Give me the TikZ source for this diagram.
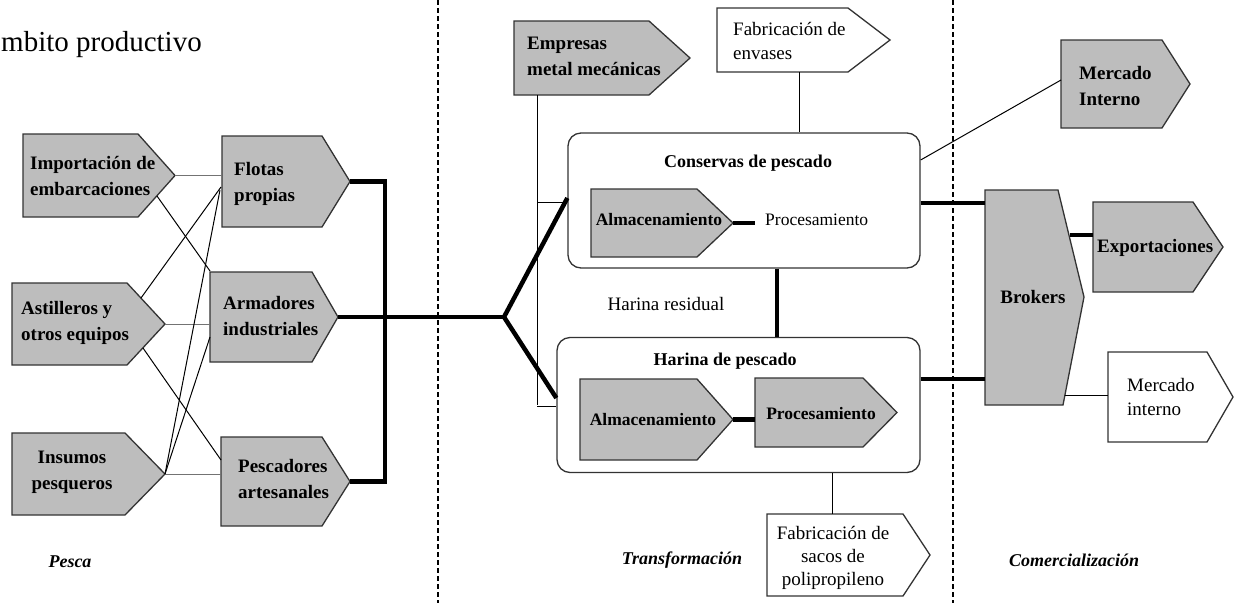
\documentclass[tikz,border=0pt]{standalone}
\usepackage{fontspec}
\setmainfont{Liberation Serif}
\usetikzlibrary{positioning}

\begin{document}
\begin{tikzpicture}[x=1pt, y=-1pt,
	gris/.style={fill=black!26, draw=black!80, line width=1.3pt},
	blanco/.style={fill=white, draw=black!80, line width=1.3pt},
	marco/.style={draw=black!80, line width=1.3pt, rounded corners=13pt},
	etiq/.style={font=\fontsize{19}{26}\selectfont\bfseries, align=left, inner sep=0pt, anchor=west},
	chica/.style={font=\fontsize{17.5}{24}\selectfont\bfseries, inner sep=0pt},
	fino/.style={font=\fontsize{19}{24}\selectfont, align=left, inner sep=0pt, anchor=west},
	fase/.style={font=\fontsize{18}{22}\selectfont\bfseries\itshape, inner sep=0pt},
	fina/.style={line width=1pt},
	gruesa/.style={line width=4.5pt},
	corte/.style={line width=1.3pt, dash pattern=on 5pt off 3pt}]
	\useasboundingbox (0,0) rectangle (1234,603);
	% separadores de fases
	\draw[corte] (438,0) -- (438,603);
	\draw[corte] (953,0) -- (953,603);
	% recuadros redondeados
	\node[marco, minimum width=352, minimum height=135] (cons) at (744,200.5) {};
	\node[marco, minimum width=363, minimum height=135] (har) at (738.5,405) {};
	% flechas grises
	\foreach \xa/\ya/\xb/\xc/\yb in {23/134/138/175/217, 12/283/127/165/365, 12/433/125/165/515,
		222/136/322/350/227, 210/272/312/338/362, 221/437/322/350/526, 514/21/649/690/95,
		591/189/697/733/257, 580/379/697/733/460, 755/378/863/897/447,
		1061/40/1162/1190/128, 1093/202/1193/1223/292}
		\filldraw[gris] (\xa,\ya) -- (\xb,\ya) -- (\xc,{(\ya+\yb)/2}) -- (\xb,\yb) -- (\xa,\yb) -- cycle;
	% flechas blancas
	\foreach \xa/\ya/\xb/\xc/\yb in {717/8/848/890/72, 767/514/903/930/596, 1108/352/1207/1233/442}
		\filldraw[blanco] (\xa,\ya) -- (\xb,\ya) -- (\xc,{(\ya+\yb)/2}) -- (\xb,\yb) -- (\xa,\yb) -- cycle;
	% brokers
	\filldraw[gris] (985,190) -- (1058,190) -- (1084,297) -- (1063,405) -- (985,405) -- cycle;
	% puntos de union
	\coordinate (imp-p) at (175,175.5);
	\coordinate (imp-b) at (157,196);
	\coordinate (ast-a) at (141,298);
	\coordinate (ast-p) at (165,324);
	\coordinate (ast-b) at (143,348);
	\coordinate (ins-p) at (165,474);
	\coordinate (flo-w) at (222,175.5);
	\coordinate (flo-w2) at (221,187);
	\coordinate (flo-w3) at (220,190);
	\coordinate (flo-p) at (350,181.5);
	\coordinate (arm-nw) at (210,271);
	\coordinate (arm-w) at (210,324);
	\coordinate (arm-w2) at (210,337);
	\coordinate (arm-p) at (338,317);
	\coordinate (pes-w) at (221,460);
	\coordinate (pes-w2) at (221,474);
	\coordinate (pes-p) at (350,481.5);
	\coordinate (codo) at (385,317);
	\coordinate (cruce) at (504,317);
	\coordinate (emp-s) at (537,95);
	\coordinate (env-s) at (799,72);
	\coordinate (calm-p) at (733,223);
	\coordinate (halm-p) at (733,419.5);
	\coordinate (sac-n) at (832,514);
	\coordinate (mer-w) at (1061,80);
	\coordinate (exp-w) at (1093,235);
	\coordinate (mint-w) at (1108,395);
	\coordinate (bro-a) at (985,203);
	\coordinate (bro-b) at (985,379);
	\coordinate (bro-c) at (1070,235);
	\coordinate (bro-d) at (1065,395);
	% lineas finas
	\draw[fina, black!55] (imp-p) -- (flo-w);
	\draw[fina, black!55] (ast-p) -- (arm-w);
	\draw[fina, black!55] (ins-p) -- (pes-w2);
	\draw[fina] (imp-b) -- (arm-nw);
	\draw[fina] (ast-a) -- (flo-w2);
	\draw[fina] (ast-b) -- (pes-w);
	\draw[fina] (ins-p) -- (flo-w3);
	\draw[fina] (ins-p) -- (arm-w2);
	\draw[fina] (emp-s) -- (emp-s |- har.west) ++(0,1) coordinate (emp-h) -- (emp-h -| har.west);
	\draw[fina] (537,202) -- (537,202 -| cons.west);
	\draw[fina] (env-s) -- (env-s |- cons.north);
	\draw[fina] (cons.east |- 0,160) -- (mer-w);
	\draw[fina] (sac-n |- har.south) -- (sac-n);
	\draw[fina] (bro-d) -- (mint-w);
	% lineas gruesas
	\draw[gruesa] (flo-p) -- (flo-p -| codo) -- (pes-p -| codo) -- (pes-p);
	\draw[gruesa] (arm-p) -- (cruce);
	\draw[gruesa, line join=round] (cons.west |- 0,198) -- (cruce) -- (har.west |- 0,398);
	\draw[gruesa] (calm-p) -- ++(22,0);
	\draw[gruesa] (halm-p) -- ++(22,0);
	\draw[gruesa] (777,0 |- cons.south) -- (777,0 |- har.north);
	\draw[gruesa] (cons.east |- bro-a) -- (bro-a);
	\draw[gruesa] (har.east |- bro-b) -- (bro-b);
	\draw[gruesa] (bro-c) -- (exp-w);
	% textos de las cajas
	\node[etiq] (imp) at (30,176) {Importación de\\embarcaciones};
	\node[etiq] (flo) at (234,184) {Flotas\\propias};
	\node[etiq] (ast) at (21,323) {Astilleros y\\otros equipos};
	\node[etiq] (arm) at (223,316) {Armadores\\industriales};
	\node[etiq, align=center, anchor=center] (ins) at (72,472) {Insumos\\pesqueros};
	\node[etiq] (pes) at (238,479) {Pescadores\\artesanales};
	\node[etiq] (emp) at (527,56) {Empresas\\metal mecánicas};
	\node[fino] (env) at (733,41) {Fabricación de\\envases};
	\node[font=\fontsize{18}{22}\selectfont\bfseries, inner sep=0pt] (cons-t) at (748,163) {Conservas de pescado};
	\node[chica] (calm) at (659,220) {Almacenamiento};
	\node[font=\fontsize{17.5}{22}\selectfont, inner sep=0pt, anchor=west] (cpro) at (765,220) {Procesamiento};
	\node[fino, anchor=center] (resid) at (666,304) {Harina residual};
	\node[font=\fontsize{18}{22}\selectfont\bfseries, inner sep=0pt] (har-t) at (725,361) {Harina de pescado};
	\node[chica] (halm) at (653,420) {Almacenamiento};
	\node[chica] (hpro) at (821,414) {Procesamiento};
	\node[fino, align=center, anchor=center, font=\fontsize{19}{23}\selectfont] (sac) at (833,558) {Fabricación de\\sacos de\\polipropileno};
	\node[etiq] (mer) at (1079,86) {Mercado\\Interno};
	\node[etiq, anchor=center] (bro) at (1033,297) {Brokers};
	\node[etiq] (exp) at (1097,248) {Exportaciones};
	\node[fino] (mint) at (1127,397) {Mercado\\interno};
	% titulos
	\node[font=\fontsize{29}{32}\selectfont, inner sep=0pt, anchor=base west] (titulo) at (1,51) {mbito productivo};
	\node[fase] (pesca) at (70,562) {Pesca};
	\node[fase] (transf) at (682,560) {Transformación};
	\node[fase] (comer) at (1074,560) {Comercialización};
\end{tikzpicture}
\end{document}
